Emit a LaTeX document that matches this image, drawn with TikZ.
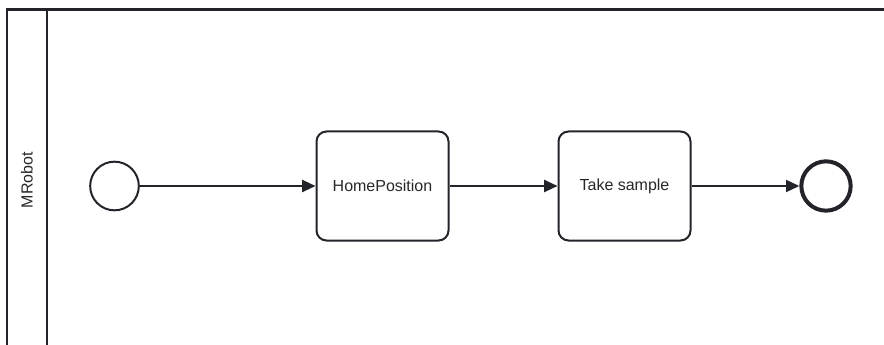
\documentclass[tikz,border=0pt]{standalone}
\usepackage{fontspec}
\setmainfont{Liberation Sans}
\usetikzlibrary{arrows.meta}
\definecolor{ink}{RGB}{34,36,42}
\definecolor{txt}{RGB}{40,40,44}
\begin{document}
\begin{tikzpicture}[x=0.75pt,y=-0.75pt,
  pool/.style={draw=ink,line width=1.6pt},
  task/.style={draw=ink,line width=1.5pt,rounded corners=7.5pt,minimum width=99pt,minimum height=81.75pt,inner sep=0pt,font=\fontsize{12}{14}\selectfont,text=txt},
  startev/.style={draw=ink,line width=1.5pt,circle,minimum size=36.5pt,inner sep=0pt},
  endev/.style={draw=ink,line width=3pt,circle,minimum size=37pt,inner sep=0pt},
  flow/.style={draw=ink,line width=1.5pt,-{Triangle[length=10pt,width=9pt]}}]
\useasboundingbox (0,0) rectangle (884,345);
\fill[white] (0,0) rectangle (884,345);
% pool
\draw[pool] (7,400) -- (7,9.5) -- (950,9.5);
\draw[pool] (47,9.5) -- (47,400);
\node[rotate=90,font=\fontsize{12}{14}\selectfont,text=txt] (lane) at (27,180) {MRobot};
% nodes
\node[startev] (s) at (114.5,186) {};
\node[task] (t1) at (382.5,186) {HomePosition};
\node[task] (t2) at (624.5,186) {Take sample};
\node[endev] (e) at (826,186) {};
% flows
\draw[flow] (s) -- (t1);
\draw[flow] (t1) -- (t2);
\draw[flow] (t2) -- (e);
\end{tikzpicture}
\end{document}
